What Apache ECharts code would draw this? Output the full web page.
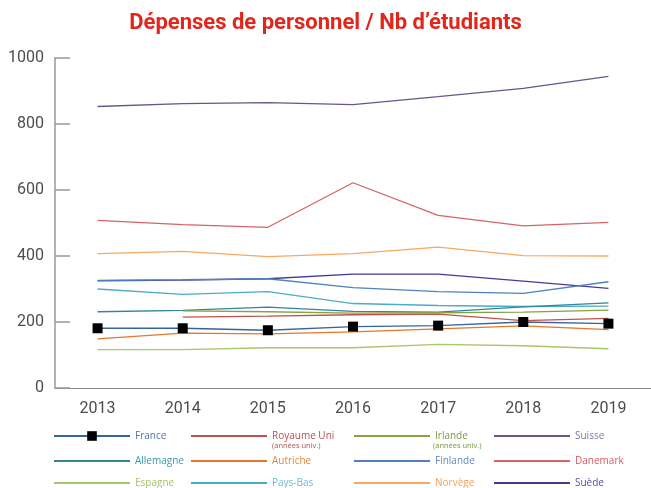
<!DOCTYPE html>
<html>
<head>
<meta charset="utf-8">
<script src="https://cdn.jsdelivr.net/npm/echarts@6/dist/echarts.min.js"></script>
<style>
html, body { margin: 0; padding: 0; background: #fff; }
#chart { width: 651px; height: 488px; }
</style>
</head>
<body>
<div id="chart"></div>
<script>
// données
var years = ['2013', '2014', '2015', '2016', '2017', '2018', '2019'];
var yTicks = [0, 200, 400, 600, 800, 1000];

var france = [181, 181, 175, 186, 189, 200, 195];
var royaumeUni = [null, 215, 218, 222, 224, 204, 211];
var irlande = [null, 234, 231, 227, 228, 230, 236];
var suisse = [853, 862, 865, 859, 883, 908, 944];
var allemagne = [231, 235, 245, 232, 230, 246, 258];
var autriche = [149, 166, 164, 170, 179, 188, 177];
var finlande = [326, 328, 331, 304, 292, 287, 322];
var danemark = [508, 495, 487, 622, 523, 491, 502];
var espagne = [116, 116, 122, 122, 132, 128, 119];
var paysBas = [300, 284, 292, 256, 250, 247, 248];
var norvege = [407, 414, 398, 407, 427, 401, 400];
var suede = [325, 327, 331, 345, 345, 324, 302];

// nom, données, couleur du trait, couleur du texte de légende, colonne, ligne
var pays = [
	['France', france, '#35649f', '#5472a8', 0, 0],
	['Royaume Uni', royaumeUni, '#c0504d', '#b5524f', 1, 0],
	['Irlande', irlande, '#86a343', '#7a9a3c', 2, 0],
	['Suisse', suisse, '#6a5488', '#8a72ad', 3, 0],
	['Allemagne', allemagne, '#31859c', '#3a97ad', 0, 1],
	['Autriche', autriche, '#e4772a', '#e4883c', 1, 1],
	['Finlande', finlande, '#4f81bd', '#6488c2', 2, 1],
	['Danemark', danemark, '#d46466', '#d9595b', 3, 1],
	['Espagne', espagne, '#a9c66b', '#a6c46a', 0, 2],
	['Pays-Bas', paysBas, '#4bacc6', '#6bb8d0', 1, 2],
	['Norvège', norvege, '#f9a862', '#f7a15a', 2, 2],
	['Suède', suede, '#463a96', '#5c4a9b', 3, 2]
];

var colLeft = [53, 190, 353, 493];
var rowY = [437, 462, 484];

var Container = document.getElementById('chart');
var myChart = echarts.init(Container);

var series = [];
var legends = [];
// France dessinée en dernier (au-dessus)
var ordre = [7, 3, 10, 11, 6, 9, 4, 2, 1, 5, 8, 0];
ordre.forEach(function (i) {
	var p = pays[i];
	var s = {
		name: p[0],
		type: 'line',
		data: p[1],
		color: p[2],
		lineStyle: { color: p[2], width: 1.3 },
		symbol: 'none',
		silent: true,
		animation: false,
		z: 2
	};
	if (p[0] === 'France') {
		s.symbol = 'rect';
		s.symbolSize = 10;
		s.itemStyle = { color: '#000' };
		s.z = 5;
	}
	series.push(s);
});
pays.forEach(function (p) {
	var lg = {
		data: [p[0]],
		left: colLeft[p[4]],
		top: rowY[p[5]] - 6,
		padding: 0,
		itemWidth: 76,
		itemHeight: 12,
		itemGap: 0,
		selectedMode: false,
		textStyle: { color: p[3], fontSize: 10, fontFamily: 'Open Sans' }
	};
	if (p[0] !== 'France') {
		lg.itemStyle = { opacity: 0 };
	}
	legends.push(lg);
});

var option = {
	title: {
		text: 'Dépenses de personnel / Nb d\u2019étudiants',
		left: 'center',
		top: 7,
		textStyle: { color: '#e2261c', fontSize: 22, fontWeight: 'bold', fontFamily: 'Roboto' }
	},
	legend: legends,
	grid: { left: 55, right: -10, top: 58, bottom: 100 },
	xAxis: {
		type: 'category',
		data: years,
		axisLine: { lineStyle: { color: '#888', width: 1 } },
		axisTick: { inside: true, length: 8, lineStyle: { color: '#777' } },
		axisLabel: { color: '#4d4d4d', fontSize: 16, fontFamily: 'Roboto', margin: 13 }
	},
	yAxis: {
		type: 'value',
		min: yTicks[0],
		max: yTicks[yTicks.length - 1],
		interval: 200,
		splitLine: { show: false },
		axisLine: { show: true, lineStyle: { color: '#999', width: 1.5 } },
		axisTick: { show: true, inside: true, length: 15, lineStyle: { color: '#999', width: 1.5 } },
		axisLabel: {
			color: '#4d4d4d', fontSize: 16, fontFamily: 'Roboto', margin: 11,
			formatter: function (v) { return String(v); }
		}
	},
	graphic: [
		{ type: 'text', left: 272, top: 442, style: { text: '(années univ.)', fontSize: 7.5, fill: '#b5524f', fontFamily: 'Open Sans' } },
		{ type: 'text', left: 433, top: 442, style: { text: '(années univ.)', fontSize: 7.5, fill: '#7a9a3c', fontFamily: 'Open Sans' } }
	],
	series: series
};
myChart.setOption(option);
</script>
</body>
</html>
